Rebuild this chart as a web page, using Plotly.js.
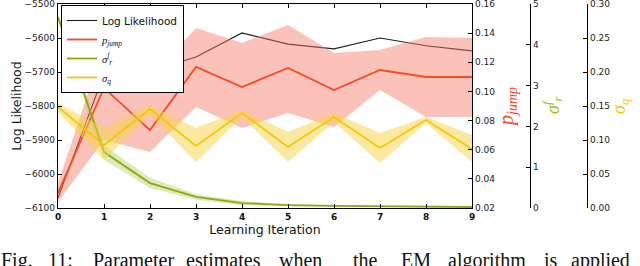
<!DOCTYPE html>
<html>
<head>
<meta charset="utf-8">
<script src="https://cdn.plot.ly/plotly-3.0.1.min.js"></script>
<style>
html,body{margin:0;padding:0;background:#fff;}
#chart{width:640px;height:266px;}
</style>
</head>
<body>
<div id="chart"></div>
<script>
// ---- data ----
const iterations = [0, 1, 2, 3, 4, 5, 6, 7, 8, 9];
const logLikelihood = [-6070, -5706, -5697, -5656, -5585, -5618, -5632, -5600, -5623, -5638];

const pJump      = [0.0303, 0.1024, 0.0735, 0.1168, 0.1030, 0.1161, 0.1010, 0.1147, 0.1099, 0.1099];
const pJumpUpper = [0.0372, 0.1319, 0.1092, 0.1435, 0.1332, 0.1456, 0.1264, 0.1284, 0.1374, 0.1367];
const pJumpLower = [0.0241, 0.0667, 0.0584, 0.0893, 0.0749, 0.0852, 0.0756, 0.1010, 0.0824, 0.0824];

const sigmaR      = [4.68, 1.37, 0.61, 0.27, 0.12, 0.07, 0.05, 0.04, 0.03, 0.025];
const sigmaRUpper = [4.76, 1.54, 0.74, 0.34, 0.17, 0.10, 0.07, 0.06, 0.05, 0.045];
const sigmaRLower = [4.60, 1.18, 0.49, 0.20, 0.07, 0.04, 0.03, 0.02, 0.015, 0.01];

const sigmaQ      = [0.1485, 0.0926, 0.1456, 0.0912, 0.1397, 0.0897, 0.1338, 0.0882, 0.1294, 0.0868];
const sigmaQUpper = [0.1544, 0.1176, 0.1515, 0.1176, 0.1441, 0.1118, 0.1397, 0.1103, 0.1338, 0.1074];
const sigmaQLower = [0.1412, 0.0706, 0.1368, 0.0676, 0.1338, 0.0676, 0.1265, 0.0662, 0.1250, 0.0676];

const seriesNames = ['Log Likelihood',
  '<span style="font-family:Liberation Serif"><i>p</i><sub><i>jump</i></sub></span>',
  '<span style="font-family:Liberation Serif"><i>σ</i><sup><i>f</i></sup><sub><i>r</i></sub></span>',
  '<span style="font-family:Liberation Serif"><i>σ</i><sub><i>q</i></sub></span>'];
const xTitle = 'Learning Iteration';
const yTitle = 'Log Likelihood';
const rightTitles = ['<i>p</i><sub><i>jump</i></sub>', '<i>σ</i><sup><i>f</i></sup><sub><i>r</i></sub>', '<i>σ</i><sub><i>q</i></sub>'];
const captionWords = ['Fig.', '11:', 'Parameter', 'estimates', 'when', 'the', 'EM', 'algorithm', 'is', 'applied'];
const captionWordX = [0, 47, 92, 185, 278, 352, 400, 447, 543, 570];

// ---- styling ----
const W = 640, H = 266;
const M = {l: 58, r: 10, t: 4, b: 58};
const PW = W - M.l - M.r, PH = H - M.t - M.b;
const px2x = p => (p - M.l) / PW;
const py2y = p => (H - M.b - p) / PH;

const cRed = '#fb4a22', cRedBand = 'rgba(245,120,100,0.45)';
const cGreen = '#8aad0c', cGreenBand = 'rgba(160,195,60,0.35)';
const cYellow = '#f6c800', cYellowBand = 'rgba(248,212,70,0.5)';

function band(upper, lower, color, yaxis) {
  return {
    x: iterations.concat(iterations.slice().reverse()),
    y: upper.concat(lower.slice().reverse()),
    fill: 'toself', fillcolor: color, line: {width: 0}, mode: 'lines',
    hoverinfo: 'skip', showlegend: false, yaxis: yaxis, type: 'scatter'
  };
}

const traces = [
  band(pJumpUpper, pJumpLower, cRedBand, 'y2'),
  band(sigmaRUpper, sigmaRLower, cGreenBand, 'y3'),
  band(sigmaQUpper, sigmaQLower, cYellowBand, 'y4'),
  {x: iterations, y: logLikelihood, name: seriesNames[0], mode: 'lines', line: {color: '#222', width: 1.1}, yaxis: 'y'},
  {x: iterations, y: pJump, name: seriesNames[1], mode: 'lines', line: {color: cRed, width: 1.8}, yaxis: 'y2'},
  {x: iterations, y: sigmaR, name: seriesNames[2], mode: 'lines', line: {color: cGreen, width: 1.8}, yaxis: 'y3'},
  {x: iterations, y: sigmaQ, name: seriesNames[3], mode: 'lines', line: {color: cYellow, width: 1.8}, yaxis: 'y4'}
];

const tickFont = {family: 'DejaVu Sans', size: 9, color: '#222'};
const xEnd = px2x(472);

const annotations = [];
const rightTitlePos = [[507, 107, cRed, 20], [552, 106, '#9cbb22', 18], [620, 107, cYellow, 18]];
rightTitles.forEach((t, i) => {
  annotations.push({text: t, xref: 'paper', yref: 'paper', x: px2x(rightTitlePos[i][0]), y: py2y(rightTitlePos[i][1]),
    xanchor: 'center', yanchor: 'middle', textangle: -90, showarrow: false,
    font: {family: 'Liberation Serif', size: rightTitlePos[i][3], color: rightTitlePos[i][2]}});
});
captionWords.forEach((w, i) => {
  annotations.push({text: w, xref: 'paper', yref: 'paper', x: px2x(captionWordX[i]), y: py2y(248),
    xanchor: 'left', yanchor: 'top', showarrow: false, borderpad: 0,
    font: {family: 'Liberation Serif', size: 20, color: '#111'}});
});

const axBase = {ticks: 'inside', ticklen: 4, tickcolor: '#000', showline: true, linecolor: '#000', linewidth: 1.2,
  showgrid: false, zeroline: false, tickfont: tickFont, ticklabeloverflow: 'allow'};

const layout = {
  width: W, height: H, margin: M, paper_bgcolor: '#fff', plot_bgcolor: '#fff',
  showlegend: true,
  legend: {x: px2x(61), y: 1 - 1/PH, xanchor: 'left', yanchor: 'top', bgcolor: '#fff',
    bordercolor: '#000', borderwidth: 1, font: {family: 'DejaVu Sans', size: 10.5, color: '#111'},
    tracegroupgap: 0, itemwidth: 30},
  xaxis: Object.assign({}, axBase, {domain: [0, xEnd], range: [0, 9], tickvals: iterations, mirror: 'ticks',
    tickfont: {family: 'DejaVu Sans', size: 9, color: '#111', weight: 'bold'},
    title: {text: xTitle, font: {family: 'DejaVu Sans', size: 12.5, color: '#111'}, standoff: 3}}),
  yaxis: Object.assign({}, axBase, {range: [-6100, -5500], tickvals: [-6100, -6000, -5900, -5800, -5700, -5600, -5500],
    title: {text: yTitle, font: {family: 'DejaVu Sans', size: 12.5, color: '#111'}, standoff: 0}}),
  yaxis2: Object.assign({}, axBase, {overlaying: 'y', side: 'right', anchor: 'x', range: [0.02, 0.16],
    tickvals: [0.02, 0.04, 0.06, 0.08, 0.10, 0.12, 0.14, 0.16], tickformat: '.2f'}),
  yaxis3: Object.assign({}, axBase, {overlaying: 'y', side: 'right', anchor: 'free', position: px2x(530), range: [0, 5],
    tickvals: [0, 1, 2, 3, 4, 5]}),
  yaxis4: Object.assign({}, axBase, {overlaying: 'y', side: 'right', anchor: 'free', position: px2x(587), range: [0, 0.3],
    tickvals: [0, 0.05, 0.10, 0.15, 0.20, 0.25, 0.30], tickformat: '.2f'}),
  annotations: annotations
};

Plotly.newPlot('chart', traces, layout, {staticPlot: true, displayModeBar: false});
</script>
</body>
</html>
